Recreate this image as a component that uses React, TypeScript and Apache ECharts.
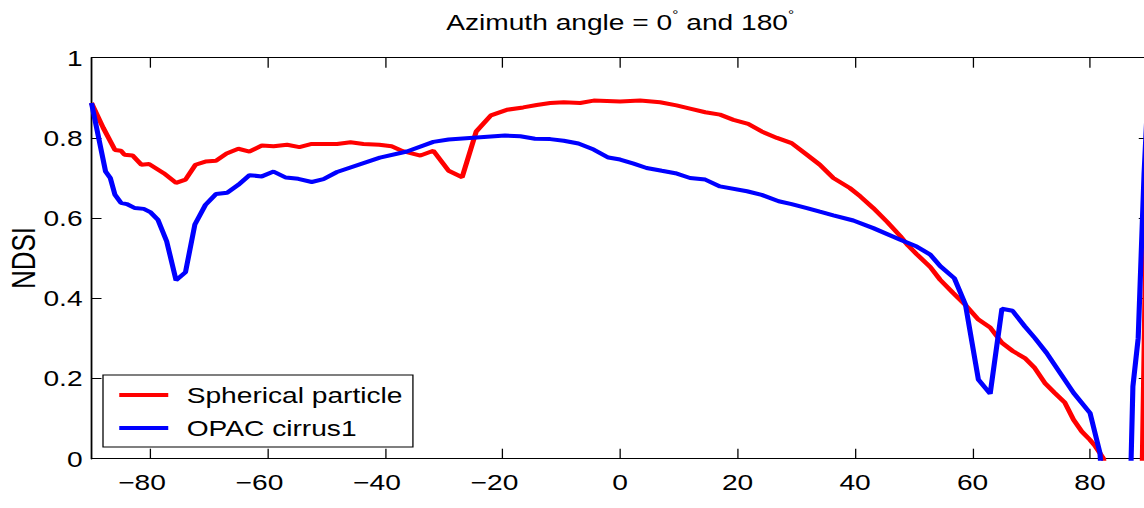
import React, { useEffect, useRef } from "react";
import * as echarts from "echarts";

// ---- data ----
const redAngles = [-90, -88, -86, -85, -84.4, -83, -81.5, -80.2, -77.7, -75.6, -74, -72.3, -70.6, -68.8, -67, -65, -63.1, -61, -59, -56.7, -54.6, -52.5, -50.3, -48.2, -45.9, -43.7, -41, -38.9, -37, -34, -31.8, -29.2, -26.9, -24.5, -22, -19.3, -16.5, -14.2, -11.9, -9.6, -6.8, -4.5, 0, 3.4, 6.8, 9.6, 11.9, 14.5, 17, 19.3, 21.8, 24.1, 26.7, 29.2, 31.8, 34, 36.3, 39.1, 40.9, 43.1, 45.5, 47.7, 49, 50.5, 52.8, 54.5, 56.7, 59, 61, 63, 65, 66.9, 68.9, 70.6, 72.3, 74, 75.7, 77.2, 78.6, 80, 80.9, 82.3, 84, 88.7, 90];
const redNDSI = [0.887, 0.825, 0.77, 0.768, 0.758, 0.756, 0.733, 0.735, 0.712, 0.688, 0.696, 0.733, 0.741, 0.743, 0.761, 0.773, 0.766, 0.781, 0.779, 0.783, 0.777, 0.785, 0.785, 0.785, 0.789, 0.785, 0.783, 0.779, 0.767, 0.756, 0.768, 0.718, 0.702, 0.816, 0.856, 0.87, 0.876, 0.882, 0.887, 0.889, 0.887, 0.893, 0.891, 0.893, 0.889, 0.881, 0.873, 0.864, 0.858, 0.845, 0.835, 0.816, 0.8, 0.787, 0.758, 0.733, 0.7, 0.675, 0.654, 0.625, 0.59, 0.555, 0.532, 0.51, 0.478, 0.446, 0.413, 0.38, 0.347, 0.327, 0.289, 0.268, 0.251, 0.226, 0.189, 0.164, 0.14, 0.097, 0.068, 0.047, 0.031, 0.0, -0.2, -0.2, 1.0];

const blueAngles = [-90, -87.6, -86.8, -86, -85, -84, -82.6, -81.1, -80, -78.7, -77.2, -75.6, -74, -72.4, -70.6, -68.8, -66.9, -65, -63.1, -61, -59, -56.9, -54.8, -52.5, -50.5, -48.2, -40.9, -36.3, -31.8, -29.2, -24.4, -19.6, -17, -14.5, -11.9, -9.6, -7.1, -4.5, -2, 0, 2.3, 4.5, 7.1, 9.4, 11.9, 14.5, 17, 21.6, 24.1, 27, 29.2, 31.8, 34, 36.3, 39.7, 43.1, 47.7, 50.5, 52.8, 54.5, 56.9, 58.8, 61, 63, 65, 66.8, 68.9, 70.6, 72.6, 74.9, 77.2, 80, 81.7, 83, 86.5, 87.3, 88.2, 89.2, 90];
const blueNDSI = [0.887, 0.716, 0.7, 0.658, 0.638, 0.635, 0.625, 0.623, 0.615, 0.596, 0.542, 0.445, 0.465, 0.584, 0.633, 0.66, 0.663, 0.683, 0.707, 0.704, 0.716, 0.701, 0.698, 0.69, 0.697, 0.715, 0.751, 0.766, 0.79, 0.796, 0.801, 0.806, 0.804, 0.798, 0.797, 0.793, 0.786, 0.771, 0.751, 0.746, 0.736, 0.725, 0.718, 0.712, 0.7, 0.696, 0.679, 0.667, 0.658, 0.642, 0.635, 0.625, 0.616, 0.607, 0.594, 0.575, 0.546, 0.529, 0.509, 0.48, 0.45, 0.384, 0.197, 0.162, 0.374, 0.369, 0.33, 0.301, 0.264, 0.214, 0.164, 0.114, 0.014, -0.3, -0.3, 0.18, 0.3, 0.71, 0.95];

const xTicks = [-80, -60, -40, -20, 0, 20, 40, 60, 80];
const seriesNames = ["Spherical particle", "OPAC cirrus1"];
const titleText = "Azimuth angle = 0{d|°} and 180{d|°}";
const yName = "NDSI";

// ---- layout ----
const S = 1.28; // horizontal stretch of the reference figure
const W = 1144;
const H = 508;
const W0 = 1170 / S; // a little wider than the window; the outer box clips it
const FONT = "'Liberation Sans', Arial, Helvetica, sans-serif";
const FS = 22;

export default function App() {
  const ref = useRef<HTMLDivElement | null>(null);

  useEffect(() => {
    if (!ref.current) return;
    const chart = echarts.init(ref.current, undefined, { renderer: "svg" });
    const gLeft = 91.5 / S;
    const gWidth = 1057.25 / S;
    const minusPad = 0.584 * FS;
    const tickStyle = { color: "#000", width: 1 };
    const xLabelFmt = (v: number) => (v < 0 ? `{n|\u2212${-v}}` : `${v}`);
    const yLabelFmt = (v: number) => (v === 0 ? "0" : v === 1 ? "1" : v.toFixed(1));

    const baseX = {
      type: "value" as const,
      min: -90,
      max: 90,
      splitLine: { show: false },
      axisLine: { show: true, onZero: false, lineStyle: { color: "#000", width: 1 } },
    };
    const baseY = {
      type: "value" as const,
      min: 0,
      max: 1,
      interval: 0.2,
      splitLine: { show: false },
      axisLine: { show: true, onZero: false, lineStyle: { color: "#000", width: 1.4 } },
    };

    chart.setOption({
      animation: false,
      backgroundColor: "#fff",
      title: {
        text: titleText,
        left: gLeft + gWidth / 2,
        textAlign: "center",
        top: 9,
        padding: 0,
        textStyle: {
          fontSize: FS,
          fontWeight: "normal",
          color: "#000",
          fontFamily: FONT,
          rich: {
            d: { fontSize: 12, fontFamily: FONT, color: "#000", padding: [0, 0, 14, 0] },
          },
        },
      },
      graphic: [
        {
          type: "text",
          x: 23 / S,
          y: 258,
          rotation: Math.PI / 2,
          style: {
            text: yName,
            fontSize: 26,
            fontFamily: FONT,
            fill: "#000",
            align: "center",
            verticalAlign: "middle",
          },
        },
      ],
      grid: {
        left: gLeft,
        top: 57.7,
        width: gWidth,
        height: 401,
        containLabel: false,
        outerBoundsMode: "none",
      },
      legend: {
        orient: "vertical",
        left: 103 / S,
        top: 375,
        data: seriesNames,
        icon: "rect",
        itemWidth: 49 / S,
        itemHeight: 4,
        itemGap: 9,
        padding: [8, 8, 7, 12.7],
        borderColor: "#000",
        borderWidth: 1,
        borderRadius: 0,
        backgroundColor: "#fff",
        textStyle: {
          fontSize: FS,
          color: "#000",
          fontFamily: FONT,
          lineHeight: 24,
          padding: [0, 0, 0, 9.4],
        },
        z: 10,
      },
      xAxis: [
        {
          ...baseX,
          position: "bottom",
          axisTick: { show: true, inside: true, length: 10, customValues: xTicks, lineStyle: tickStyle },
          axisLabel: {
            show: true,
            customValues: xTicks,
            formatter: xLabelFmt,
            fontSize: FS,
            color: "#000",
            fontFamily: FONT,
            margin: 12,
            rich: {
              n: { fontSize: FS, color: "#000", fontFamily: FONT, padding: [0, minusPad, 0, 0] },
            },
          },
        },
        {
          ...baseX,
          position: "top",
          axisTick: { show: true, inside: true, length: 10, customValues: xTicks, lineStyle: tickStyle },
          axisLabel: { show: false },
        },
      ],
      yAxis: [
        {
          ...baseY,
          position: "left",
          axisTick: { show: true, inside: true, length: 10 / S, lineStyle: tickStyle },
          axisLabel: { show: true, formatter: yLabelFmt, fontSize: FS, color: "#000", fontFamily: FONT, margin: 7 },
        },
        {
          ...baseY,
          position: "right",
          axisTick: { show: true, inside: true, length: 10 / S, lineStyle: tickStyle },
          axisLabel: { show: false },
        },
      ],
      series: [
        {
          name: seriesNames[0],
          type: "line",
          xAxisIndex: 0,
          yAxisIndex: 0,
          data: redAngles.map((a, i) => [a, redNDSI[i]]),
          showSymbol: false,
          symbol: "none",
          clip: true,
          color: "#ff0000",
          lineStyle: { color: "#ff0000", width: 4 },
          z: 2,
        },
        {
          name: seriesNames[1],
          type: "line",
          xAxisIndex: 0,
          yAxisIndex: 0,
          data: blueAngles.map((a, i) => [a, blueNDSI[i]]),
          showSymbol: false,
          symbol: "none",
          clip: true,
          color: "#0000ff",
          lineStyle: { color: "#0000ff", width: 4 },
          z: 3,
        },
      ],
    });
    return () => chart.dispose();
  }, []);

  return (
    <div style={{ position: "absolute", left: 0, top: 0, width: W, height: H, overflow: "hidden", background: "#fff" }}>
      <div
        ref={ref}
        style={{ width: W0, height: H, transform: `scaleX(${S})`, transformOrigin: "0 0" }}
      />
    </div>
  );
}
